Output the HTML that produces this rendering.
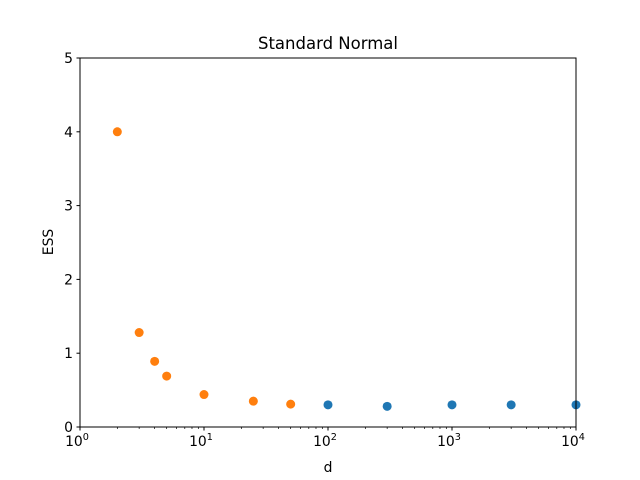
<!DOCTYPE html>
<html><head><meta charset="utf-8"><style>body{margin:0;background:#fff}svg{display:block;font-family:"DejaVu Sans","Liberation Sans",sans-serif}</style></head>
<body>
<svg id="chart" width="640" height="480">
<rect width="640" height="480" fill="#fff"/>
<text x="328" y="49" text-anchor="middle" font-size="16.5">Standard Normal</text>
<text x="328" y="472" text-anchor="middle" font-size="13.9">d</text>
<text transform="translate(53,242) rotate(-90)" text-anchor="middle" font-size="13.9">ESS</text>
<g id="ticks"></g>
<g id="marks"></g>
<rect x="80" y="58" width="496" height="369" fill="none" stroke="#000" stroke-width="1"/>
</svg>
<script>
const orangeX=[2,3,4,5,10,25,50];
const orangeY=[4.0,1.28,0.89,0.69,0.44,0.35,0.31];
const blueX=[100,300,1000,3000,10000];
const blueY=[0.30,0.28,0.30,0.30,0.30];
const yTicks=[0,1,2,3,4,5];
const xDecades=[0,1,2,3,4];
const NS="http://www.w3.org/2000/svg";
const L=80,R=576,T=58,B=427;
function sx(v){return L+(Math.log10(v)-0)/4*(R-L);}
function sy(v){return B-(v/5)*(B-T);}
function mk(tag,at,parent){const e=document.createElementNS(NS,tag);for(const k in at)e.setAttribute(k,at[k]);parent.appendChild(e);return e;}
const tg=document.getElementById('ticks');
yTicks.forEach(v=>{
  const ln=mk('line',{x1:L-3.5,x2:L,y1:sy(v),y2:sy(v),stroke:'#000'},tg);
  
  
  const t=mk('text',{x:L-7,y:sy(v)+5,'text-anchor':'end','font-size':'13.9'},tg);
  t.textContent=v;
  
  
});
xDecades.forEach(p=>{
  const x=sx(Math.pow(10,p));
  const ln=mk('line',{x1:x,x2:x,y1:B,y2:B+3.5,stroke:'#000'},tg);
  
  
  const t=mk('text',{x:x-3,y:B+19,'text-anchor':'middle','font-size':'13.9'},tg);
  t.textContent='10';
  
  
  const s=mk('tspan',{dy:'-6','font-size':'9.7'},t);s.textContent=p;
  if(p<4){for(let k=2;k<10;k++){const mx=sx(k*Math.pow(10,p));
    const m=mk('line',{x1:mx,x2:mx,y1:B,y2:B+2,stroke:'#000','stroke-width':'0.7'},tg);
    
    }}
});
const mg=document.getElementById('marks');
blueX.forEach((x,i)=>{
  const c=mk('circle',{cx:sx(x),cy:sy(blueY[i]),r:4.5,fill:'#1f77b4'},mg);
  
  
});
orangeX.forEach((x,i)=>{
  const c=mk('circle',{cx:sx(x),cy:sy(orangeY[i]),r:4.5,fill:'#ff7f0e'},mg);
  
  
});
</script>
</body></html>
